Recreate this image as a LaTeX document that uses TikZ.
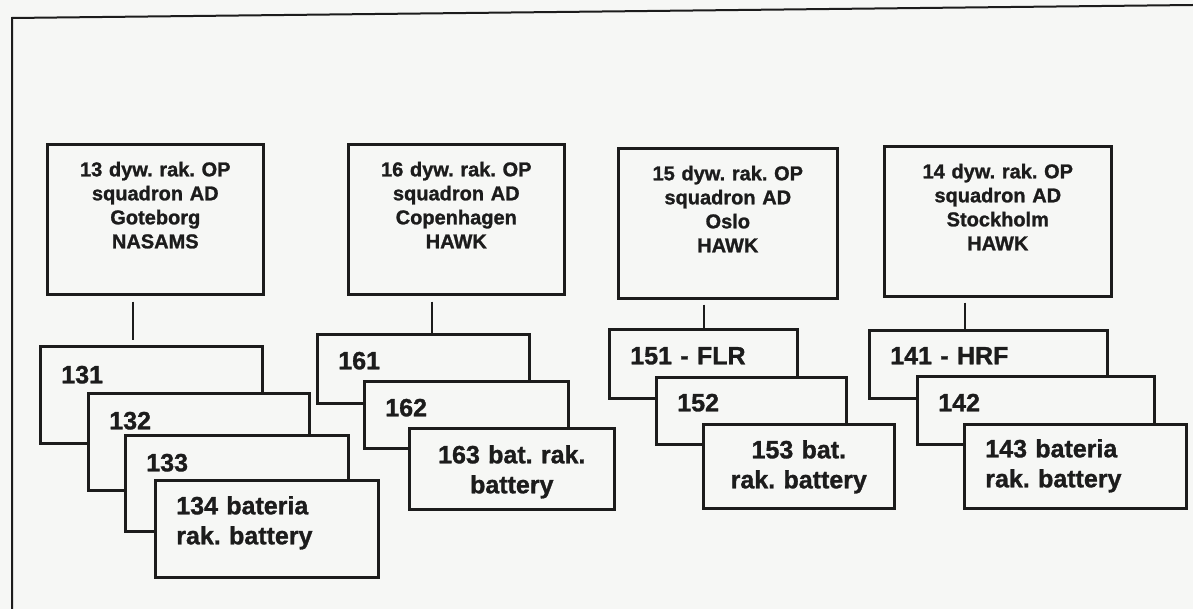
\documentclass[tikz,border=0pt]{standalone}
\usepackage{fontspec}
\setmainfont{Liberation Sans}[BoldFeatures={FakeBold=1.2}]
\definecolor{paper}{RGB}{246,247,245}
\definecolor{ink}{RGB}{28,28,28}
\frenchspacing
\begin{document}
\begin{tikzpicture}[x=1pt, y=-1pt,
        unit/.style={draw=ink, line width=2.6pt, fill=paper, anchor=north west, inner xsep=4pt, inner ysep=0pt, align=center, text=ink, font=\fontsize{20}{24}\selectfont\bfseries},
        bat/.style={draw=ink, line width=2.6pt, fill=paper, anchor=north west, inner xsep=21pt, inner ysep=0pt, align=left, text=ink, font=\fontsize{25}{30}\selectfont\bfseries}]
        \fill[paper] (0,0) rectangle (1193,609);
        \useasboundingbox (0,0) rectangle (1193,609);
        \draw[ink, line width=2pt] (12,609) -- (12,18) -- (1193,5);

        \node[unit, text width=208pt, text height=32pt, text depth=118pt] (u13) at (46,143) {13 dyw. rak. OP\\squadron AD\\Goteborg\\NASAMS};
        \node[unit, text width=208pt, text height=32pt, text depth=118pt] (u16) at (347,143) {16 dyw. rak. OP\\squadron AD\\Copenhagen\\HAWK};
        \node[unit, text width=211pt, text height=32pt, text depth=118pt] (u15) at (617,147) {15 dyw. rak. OP\\squadron AD\\Oslo\\HAWK};
        \node[unit, text width=219pt, text height=32pt, text depth=118pt] (u14) at (883,145) {14 dyw. rak. OP\\squadron AD\\Stockholm\\HAWK};

        \draw[ink, line width=2.6pt] (u13.south west) ++(87,6) -- ++(0,38);
        \draw[ink, line width=2.6pt] (u16.south west) ++(85,6) -- ++(0,31);
        \draw[ink, line width=2.6pt] (u15.south west) ++(87,5) -- ++(0,23);
        \draw[ink, line width=2.6pt] (u14.south west) ++(82,5) -- ++(0,29);

        \node[bat, text width=180pt, text height=37pt, text depth=60pt] (b131) at (39,345) {131};
        \node[bat, text width=179pt, text height=36pt, text depth=61pt] (b132) at (87,392) {132};
        \node[bat, text width=181pt, text height=36pt, text depth=60pt] (b133) at (124,434) {133};
        \node[bat, text width=181pt, text height=34pt, text depth=63pt] (b134) at (154,479) {134 bateria\\rak. battery};

        \node[bat, text width=170pt, text height=35pt, text depth=34pt] (b161) at (316,333) {161};
        \node[bat, text width=162pt, text height=35pt, text depth=32pt] (b162) at (363,380) {162};
        \node[bat, align=center, text width=163pt, text height=35pt, text depth=46pt] (b163) at (408,427) {163 bat. rak.\\battery};

        \node[bat, text width=146pt, text height=35pt, text depth=34pt] (b151) at (608,328) {151 - FLR};
        \node[bat, text width=148pt, text height=34pt, text depth=33pt] (b152) at (655,376) {152};
        \node[bat, align=center, text width=149pt, text height=34pt, text depth=50pt] (b153) at (702,423) {153 bat.\\rak. battery};

        \node[bat, text width=196pt, text height=34pt, text depth=34pt] (b141) at (868,329) {141 - HRF};
        \node[bat, text width=195pt, text height=35pt, text depth=33pt] (b142) at (916,375) {142};
        \node[bat, text width=180pt, text height=33pt, text depth=51pt] (b143) at (963,423) {143 bateria\\rak. battery};
\end{tikzpicture}
\end{document}
